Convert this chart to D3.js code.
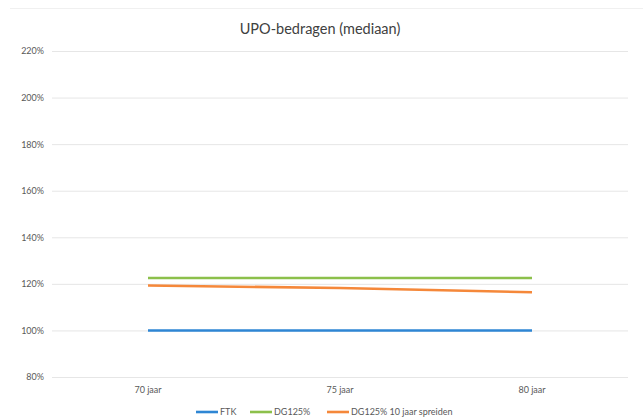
<!DOCTYPE html>
<html><head><meta charset="utf-8">
<script src="https://cdn.jsdelivr.net/npm/d3@7"></script>
<style>body{margin:0;background:#fff;}svg{display:block;font-family:Lato,"Open Sans",sans-serif;}</style>
</head><body>
<svg id="c" width="643" height="419"></svg>
<script>
const categories = ["70 jaar","75 jaar","80 jaar"];
const seriesNames = ["FTK","DG125%","DG125% 10 jaar spreiden"];
const seriesColors = ["#2E86D4","#8CC04B","#F5883A"];
const ftk = [100,100,100];
const dg125 = [122.5,122.5,122.5];
const dg125spread = [119.3,118.2,116.4];
const yTicks = [80,100,120,140,160,180,200,220];
const title = "UPO-bedragen (mediaan)";

(function(){
const series = [ftk, dg125, dg125spread];
const svg = d3.select("#c");
const mLeft = 52, mRight = 628, mTop = 51, mBottom = 377;
const x = d3.scaleBand().domain(categories).range([mLeft,mRight]);
const y = d3.scaleLinear().domain([80,220]).range([mBottom,mTop]);

svg.append("line").attr("x1",10).attr("x2",643).attr("y1",8.5).attr("y2",8.5).attr("stroke","#f0f0f0");

svg.append("text").attr("x",320).attr("y",34).attr("text-anchor","middle")
  .attr("font-size",14.5).attr("fill","#404040").text(title);

const ya = svg.append("g").attr("transform",`translate(${mLeft},0)`)
  .call(d3.axisLeft(y).tickValues(yTicks).tickSize(-(mRight-mLeft)).tickFormat(d=>d+"%").tickPadding(8));
ya.select(".domain").remove();
ya.selectAll(".tick line").attr("stroke","#e6e6e6");
ya.selectAll(".tick text").attr("fill","#595959").attr("font-size",9).attr("font-family","Lato,sans-serif");

const xa = svg.append("g").attr("transform",`translate(0,${mBottom})`)
  .call(d3.axisBottom(x).tickSize(0).tickPadding(10));
xa.select(".domain").remove();
xa.selectAll(".tick text").attr("fill","#595959").attr("font-size",9).attr("font-family","Lato,sans-serif");

const line = d3.line().x((d,i)=>x(categories[i])+x.bandwidth()/2).y(d=>y(d));
series.forEach((s,i)=>{
  svg.append("path").datum(s).attr("d",line).attr("fill","none")
    .attr("stroke",seriesColors[i]).attr("stroke-width",2.6);
});

const legX = [196,250,327];
const lg = svg.append("g");
seriesNames.forEach((n,i)=>{
  lg.append("line").attr("x1",legX[i]).attr("x2",legX[i]+22).attr("y1",412).attr("y2",412)
    .attr("stroke",seriesColors[i]).attr("stroke-width",2.6);
  lg.append("text").attr("x",legX[i]+24).attr("y",415).attr("font-size",9).attr("fill","#595959").text(n);
});
})();
</script>
</body></html>
